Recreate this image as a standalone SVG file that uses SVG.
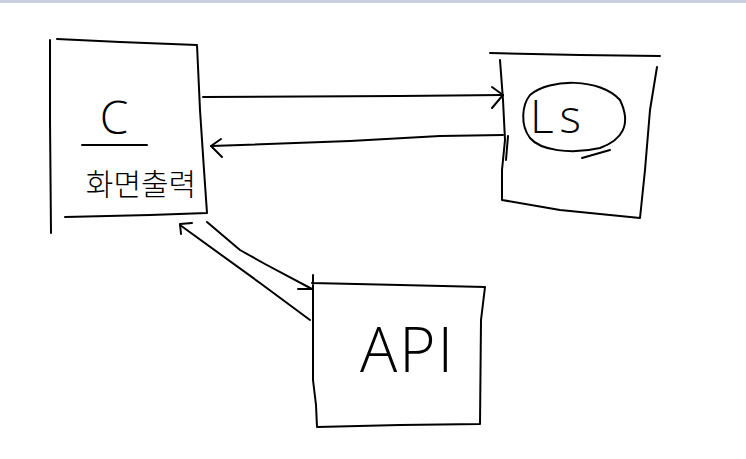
<svg xmlns="http://www.w3.org/2000/svg" width="746" height="459" viewBox="0 0 746 459">
<style>
.s{fill:none;stroke:#000;stroke-width:2;stroke-linecap:round;stroke-linejoin:round}
.t{font-family:"Open Sans","Liberation Sans",sans-serif;fill:#000}
</style>
<rect width="746" height="459" fill="#fff"/>
<rect width="746" height="3" fill="#c9cedf"/>
<g id="node-c">
<path class="s" d="M50,40 L50,120 L51,233"/>
<path class="s" d="M57,39 L120,42 L197,45 L200,110 L204,170 L207,213 L150,215 L65,217"/>
<text class="t" x="114" y="134" font-size="46" font-weight="300" text-anchor="middle">C</text>
<path class="s" d="M82,145 L147,145"/>
<text x="141" y="195" font-size="30" font-weight="300" text-anchor="middle" style="font-family:'Noto Sans CJK KR',sans-serif">화면출력</text>
</g>
<g id="node-ls">
<path class="s" d="M490,53 L580,55 L660,56"/>
<path class="s" d="M500,60 L503,100 L505,140 L502,170 L502,200 L560,210 L640,218 L645,170 L650,110 L657,67"/>
<path class="s" d="M508,136 L506,160"/>
<path class="s" d="M530,95 C550,78 600,78 620,100 C632,125 622,140 600,148 C570,155 540,150 530,138 C520,125 522,105 530,95 Z"/>
<path class="s" d="M582,158 L610,150"/>
<text class="t" x="530" y="133" font-size="46" font-weight="300" letter-spacing="6">Ls</text>
</g>
<g id="node-api">
<path class="s" d="M313,275 L313,380 L316,405 L317,427 L400,425 L480,424 L481,320 L485,287 L400,285 L312,283"/>
<text class="t" x="360" y="372" font-size="62" font-weight="300" letter-spacing="2">API</text>
</g>
<g id="connectors">
<path class="s" d="M203,97 L400,96 L503,95"/>
<path class="s" d="M492,87 L503,95 L492,108"/>
<path class="s" d="M503,135 L440,136 L350,141 L211,146"/>
<path class="s" d="M221,139 L211,146 L222,157"/>
<path class="s" d="M207,222 L240,250 L265,264 L312,289"/>
<path class="s" d="M298,289 L312,289"/>
<path class="s" d="M310,320 L260,283 L180,225"/>
<path class="s" d="M181,234 L180,224 L192,223"/>
</g>
</svg>
